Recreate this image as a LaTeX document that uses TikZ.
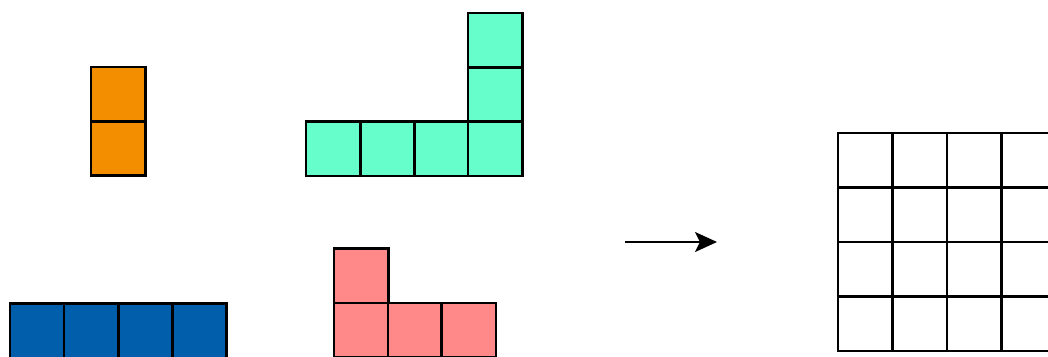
\documentclass[tikz,border=0pt]{standalone}
\usetikzlibrary{arrows.meta}
\definecolor{cOrange}{RGB}{242,142,0}
\definecolor{cTeal}{RGB}{102,255,204}
\definecolor{cBlue}{RGB}{0,94,170}
\definecolor{cPink}{RGB}{255,136,136}
\tikzset{
  cellbox/.style={draw=black, line width=2.6pt},
  arrowline/.style={line width=2.2pt, -{Stealth[length=22pt,width=20pt,inset=5pt]}}
}
\newcommand{\mycell}[3]{\filldraw[cellbox, fill=#3] (#1,#2) rectangle ++(54.3,54.3);}
\begin{document}
\begin{tikzpicture}[x=1pt,y=-1pt]
\useasboundingbox (0,0) rectangle (1048,356);
\begin{scope}
\clip (0,0) rectangle (1048,356);
% orange
\mycell{91}{67}{cOrange}
\mycell{91}{121.3}{cOrange}
% teal
\mycell{306}{121.5}{cTeal}
\mycell{360.3}{121.5}{cTeal}
\mycell{414.6}{121.5}{cTeal}
\mycell{468}{121.5}{cTeal}
\mycell{468}{67.2}{cTeal}
\mycell{468}{12.9}{cTeal}
% blue
\mycell{10}{303.5}{cBlue}
\mycell{64.1}{303.5}{cBlue}
\mycell{118.2}{303.5}{cBlue}
\mycell{172.3}{303.5}{cBlue}
% pink
\mycell{334}{248.5}{cPink}
\mycell{334}{302.8}{cPink}
\mycell{388}{302.8}{cPink}
\mycell{441.5}{302.8}{cPink}
% grid
\foreach \i in {0,...,4}{
  \foreach \j in {0,...,3}{
    \draw[cellbox] (838+54.4*\i,133+54.5*\j) rectangle ++(54.4,54.5);
  }
}
\end{scope}
\coordinate (arrS) at (625,242);
\coordinate (arrE) at (717,242);
\draw[arrowline] (arrS) -- (arrE);
\end{tikzpicture}
\end{document}
